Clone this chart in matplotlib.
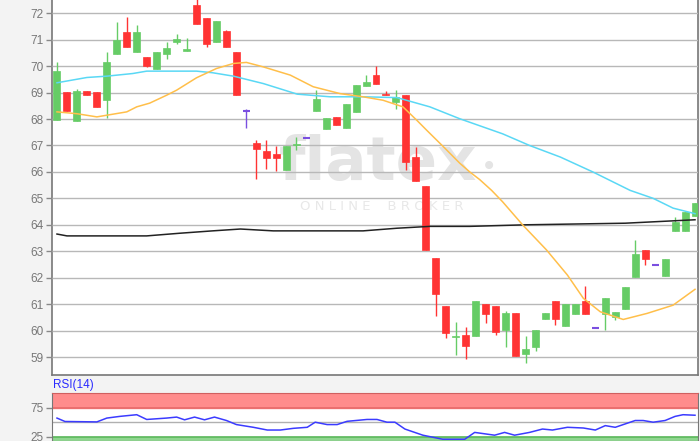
import numpy as np
import matplotlib
matplotlib.use("Agg")
import matplotlib.pyplot as plt

plt.rcParams['font.family'] = ['Liberation Sans', 'DejaVu Sans']

# candles (open, high, low, close), one per trading day
opens  = [67.97, 69.01, 67.91, 69.06, 69.01, 68.71, 70.44, 71.28, 70.52, 70.34,
          69.89, 70.44, 70.92, 70.59, 72.32, 71.81, 70.91, 71.33, 70.54, 68.29,
          67.09, 66.78, 66.66, 66.09, 67.00, 67.29, 68.30, 67.63, 68.08, 67.67,
          68.27, 69.24, 69.66, 68.96, 68.65, 68.90, 66.56, 65.45, 62.76, 60.92,
          59.75, 59.85, 59.78, 60.99, 60.92, 60.04, 60.67, 59.13, 59.38, 60.42,
          61.11, 60.16, 60.61, 61.11, 60.08, 60.61, 60.52, 60.80, 62.01, 63.03,
          62.47, 62.08, 63.75, 63.75, 64.34]
highs  = [70.16, 69.03, 69.15, 69.06, 69.01, 70.54, 71.68, 71.84, 71.56, 70.34,
          70.54, 70.90, 71.20, 71.08, 72.60, 71.81, 71.72, 71.37, 70.54, 68.39,
          67.19, 67.19, 66.97, 66.97, 67.32, 67.29, 69.11, 68.04, 68.08, 68.58,
          69.30, 69.66, 70.00, 69.06, 69.11, 68.90, 66.94, 65.45, 62.76, 60.92,
          60.33, 60.14, 61.11, 60.99, 60.92, 60.73, 60.67, 59.78, 60.01, 60.67,
          61.11, 61.00, 61.00, 61.68, 60.08, 61.22, 60.71, 61.63, 63.43, 63.03,
          62.47, 62.70, 64.30, 64.47, 64.81]
lows   = [67.97, 68.29, 67.91, 68.90, 68.44, 68.05, 70.44, 70.72, 70.52, 69.98,
          69.89, 70.27, 70.82, 70.59, 71.59, 70.72, 70.91, 70.72, 68.90, 67.66,
          65.73, 66.11, 66.03, 66.09, 66.84, 67.29, 68.30, 67.63, 67.76, 67.67,
          68.27, 69.24, 69.34, 68.90, 68.39, 66.08, 65.67, 63.03, 60.56, 59.72,
          59.09, 58.94, 59.78, 60.29, 59.82, 59.38, 59.03, 58.77, 59.22, 60.42,
          60.20, 60.16, 60.61, 60.61, 60.08, 60.04, 60.40, 60.80, 62.01, 62.47,
          62.47, 62.08, 63.75, 63.75, 64.34]
closes = [69.81, 68.29, 69.06, 68.90, 68.44, 70.14, 71.00, 70.72, 71.28, 70.01,
          70.54, 70.67, 71.01, 70.62, 71.59, 70.82, 71.72, 70.72, 68.90, 68.29,
          66.87, 66.53, 66.53, 66.97, 67.05, 67.29, 68.77, 68.04, 67.76, 68.58,
          69.30, 69.41, 69.34, 68.90, 68.84, 66.39, 65.67, 63.03, 61.38, 59.91,
          59.78, 59.42, 61.11, 60.61, 59.95, 60.67, 59.03, 59.29, 60.01, 60.67,
          60.42, 61.00, 61.00, 60.61, 60.08, 61.22, 60.71, 61.63, 62.89, 62.72,
          62.47, 62.70, 64.09, 64.47, 64.81]

# moving averages (x in candle index units)
sma_fast_x = [0, 2, 4, 7, 8, 9.3, 11, 12, 14, 16, 17.7, 19, 20.7, 23.4, 25.7, 28.4,
              30.7, 32.7, 34.7, 36.1, 37.1, 38.9, 40.4, 41.4, 42.4, 43.6, 44.7,
              46.7, 49.1, 51.2, 52.8, 54.5, 56.8, 59.2, 61.8, 64]
sma_fast = [68.27, 68.20, 68.08, 68.27, 68.46, 68.60, 68.90, 69.09, 69.56, 69.91,
            70.10, 70.14, 69.97, 69.66, 69.22, 68.96, 68.84, 68.71, 68.46, 67.95,
            67.57, 66.90, 66.33, 66.00, 65.71, 65.30, 64.87, 64.00, 63.05, 62.10,
            61.22, 60.71, 60.42, 60.65, 60.96, 61.56]
sma_mid_x = [0, 3, 5, 7.6, 9, 14, 15.6, 17.7, 20.7, 24.1, 27.4, 30.7, 34.1, 37.4,
             40.4, 44.7, 47.4, 50.5, 53.8, 57.5, 59.8, 61.8, 64]
sma_mid = [69.37, 69.57, 69.62, 69.72, 69.81, 69.81, 69.75, 69.62, 69.34, 68.94,
           68.84, 68.84, 68.81, 68.46, 68.01, 67.44, 67.00, 66.56, 65.99, 65.30,
           65.00, 64.63, 64.42]
sma_slow_x = [0, 1, 9, 12.3, 15.6, 18.4, 21.7, 30.7, 34.1, 37.4, 41.4, 47.1, 57, 64]
sma_slow = [63.65, 63.58, 63.58, 63.68, 63.77, 63.84, 63.77, 63.77, 63.87, 63.94,
            63.94, 64.00, 64.06, 64.19]

rsi_x = [0, 0.8, 4, 5, 6.3, 8, 9, 11, 12, 12.8, 13.8, 14.8, 15.8, 17, 18, 19.7,
         21.1, 22.4, 23.7, 25.1, 25.9, 27.1, 28.1, 29.1, 31.1, 32.1, 33.1, 33.9,
         34.9, 36.7, 38.7, 40.9, 41.9, 43.9, 44.9, 45.9, 47.4, 48.7, 49.7, 51.2,
         52.8, 54, 55, 56, 58, 58.8, 59.8, 61, 62, 62.8, 64]
rsi = [57.1, 51.2, 50.5, 57.1, 60.0, 62.9, 54.7, 57.1, 58.8, 54.1, 58.8, 54.1,
       58.8, 52.9, 45.9, 41.2, 36.5, 36.5, 39.4, 41.2, 50.0, 45.9, 45.9, 51.5,
       54.7, 54.7, 50.0, 50.0, 38.2, 27.6, 20.6, 20.6, 32.4, 27.6, 32.4, 27.6,
       32.4, 38.2, 36.5, 41.2, 40.0, 36.5, 44.1, 41.2, 52.9, 52.9, 50.0, 52.9,
       60.0, 62.9, 62.0]

green = '#66cc66'
red = '#ff3333'
purple = '#7a4fe0'

fig = plt.figure(figsize=(7, 4.41), dpi=100, facecolor='#f3f3f3')
ax = fig.add_axes([52/700, 1 - 375/441, 646/700, 375/441])
ax.set_facecolor('white')

idx = np.arange(len(opens))
for i in idx:
    o, h, l, c = opens[i], highs[i], lows[i], closes[i]
    if o == c and (h == o or l == o or abs(h - l) < 0.01):
        col = purple
    elif o == c:
        col = purple
    elif c > o:
        col = green
    else:
        col = red
    ax.vlines(i, l, h, color=col, lw=1, zorder=3)
    if col == purple:
        ax.hlines(c, i - 0.35, i + 0.35, color=col, lw=1.5, zorder=4)
    else:
        ax.bar(i, max(abs(c - o), 0.05), bottom=min(o, c), width=0.7,
               color=col, edgecolor=col, lw=0.5, zorder=4)

ax.plot(sma_slow_x, sma_slow, color='#222222', lw=1.1, zorder=5)
ax.plot(sma_mid_x, sma_mid, color='#5ad8f5', lw=1.1, zorder=5)
ax.plot(sma_fast_x, sma_fast, color='#ffbf4a', lw=1.1, zorder=5)

# watermark
ax.text(0.505, 0.565, 'flatex', transform=ax.transAxes, fontsize=44,
        family='DejaVu Sans', weight='bold', color='#e4e4e4',
        ha='center', va='center', zorder=0.5)
ax.text(0.676, 0.555, '•', transform=ax.transAxes, fontsize=20,
        family='DejaVu Sans', color='#e4e4e4', ha='center', va='center', zorder=0.5)
ax.text(0.51, 0.45, 'O N L I N E    B R O K E R', transform=ax.transAxes,
        fontsize=9.5, family='DejaVu Sans', color='#e8e8e8',
        ha='center', va='center', zorder=0.5)

ax.set_xlim(-0.5, 64.3)
ax.set_ylim(58.32, 72.5)
ax.set_yticks(range(59, 73))
ax.set_xticks([])
ax.grid(axis='y', color='#b8b8b8', lw=1, zorder=1)
ax.set_axisbelow(False)
for s in ['top']:
    ax.spines[s].set_visible(False)
for s in ['left', 'right', 'bottom']:
    ax.spines[s].set_color('#777777')
    ax.spines[s].set_linewidth(1.2)
ax.tick_params(axis='y', length=4, width=1, color='#888888', labelcolor='#777777',
               labelsize=8.5, pad=2)

# RSI panel
rax = fig.add_axes([52/700, 0, 646/700, 48/441])
rax.set_facecolor('white')
rax.axhspan(75, 100.3, color='#ff8c8c', zorder=1)
rax.axhline(75, color='#e86a6a', lw=1.2, zorder=2)
rax.axhspan(0, 25, color='#8fd68f', zorder=1)
rax.axhline(25, color='#5cb85c', lw=1.2, zorder=2)
rax.axhline(50, color='#b0b0b0', lw=1, zorder=2)
rax.plot(rsi_x, rsi, color='#3b3bff', lw=1.1, zorder=3)
rax.set_xlim(-0.5, 64.3)
rax.set_ylim(17.6, 100.3)
rax.set_yticks([25, 75])
rax.set_xticks([])
for s in rax.spines.values():
    s.set_color('#777777')
rax.spines['top'].set_color('#d06060')
rax.tick_params(axis='y', length=4, width=1, color='#888888', labelcolor='#777777',
                labelsize=8.5, pad=2)

fig.text(53/700, 1 - 385/441, 'RSI(14)', color='#2b2bff', fontsize=8.5,
         ha='left', va='center')

fig.savefig('out.png', dpi=100, facecolor=fig.get_facecolor())
